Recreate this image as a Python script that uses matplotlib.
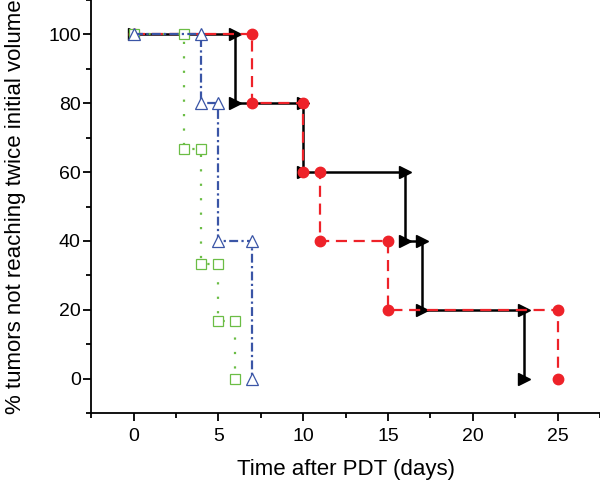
import matplotlib.pyplot as plt
from matplotlib.ticker import MultipleLocator

plt.rcParams['font.family'] = ['Liberation Sans', 'DejaVu Sans']

# step-curve data (days, % tumors not reaching twice initial volume)
black_x = [0, 6, 6, 10, 10, 16, 16, 17, 17, 23, 23]
black_y = [100, 100, 80, 80, 60, 60, 40, 40, 20, 20, 0]

red_x = [0, 7, 7, 10, 10, 11, 11, 15, 15, 25, 25]
red_y = [100, 100, 80, 80, 60, 60, 40, 40, 20, 20, 0]

blue_x = [0, 4, 4, 5, 5, 7, 7]
blue_y = [100, 100, 80, 80, 40, 40, 0]

green_x = [0, 3, 3, 4, 4, 5, 5, 6, 6]
green_y = [100, 100, 66.7, 66.7, 33.3, 33.3, 16.7, 16.7, 0]

fig = plt.figure(figsize=(6, 4.82), dpi=100)
ax = fig.add_axes([0.152, 0.143, 0.848, 0.857])

ax.plot(black_x, black_y, color='black', linestyle='-', linewidth=1.8,
        marker='>', markersize=8, markerfacecolor='black',
        markeredgecolor='black', zorder=2)
ax.plot(red_x, red_y, color='#ee2229', linestyle=(0, (5, 3)), linewidth=1.6,
        marker='o', markersize=7.5, markerfacecolor='#ee2229',
        markeredgecolor='#ee2229', zorder=3)
ax.plot(green_x, green_y, color='#6bbd45', linestyle=(0, (1, 5.5)),
        linewidth=1.6, marker='s', markersize=7, markerfacecolor='white',
        markeredgecolor='#6bbd45', markeredgewidth=0.9, zorder=4)
ax.plot(blue_x, blue_y, color='#3a55a6', linestyle=(0, (4, 1.5, 1, 1.5)),
        linewidth=1.6, marker='^', markersize=9, markerfacecolor='white',
        markeredgecolor='#3a55a6', markeredgewidth=0.9, zorder=5)

ax.set_xlim(-2.5, 27.5)
ax.set_ylim(-10, 110)
ax.xaxis.set_major_locator(MultipleLocator(5))
ax.xaxis.set_minor_locator(MultipleLocator(2.5))
ax.yaxis.set_major_locator(MultipleLocator(20))
ax.yaxis.set_minor_locator(MultipleLocator(10))

for side in ['top', 'right']:
    ax.spines[side].set_visible(False)
for side in ['left', 'bottom']:
    ax.spines[side].set_linewidth(1.3)

ax.tick_params(which='major', direction='out', length=6, width=1.3,
               labelsize=14)
ax.tick_params(axis='x', which='major', pad=5)
ax.tick_params(axis='y', which='major', pad=1.5)
ax.tick_params(which='minor', direction='out', length=3.5, width=1.3)

ax.set_xlabel('Time after PDT (days)', fontsize=16)
ax.set_ylabel('% tumors not reaching twice initial volume', fontsize=16)
ax.xaxis.set_label_coords(0.5, -0.111)
ax.yaxis.set_label_coords(-0.128, 0.5)

fig.savefig('out.png', dpi=100)
